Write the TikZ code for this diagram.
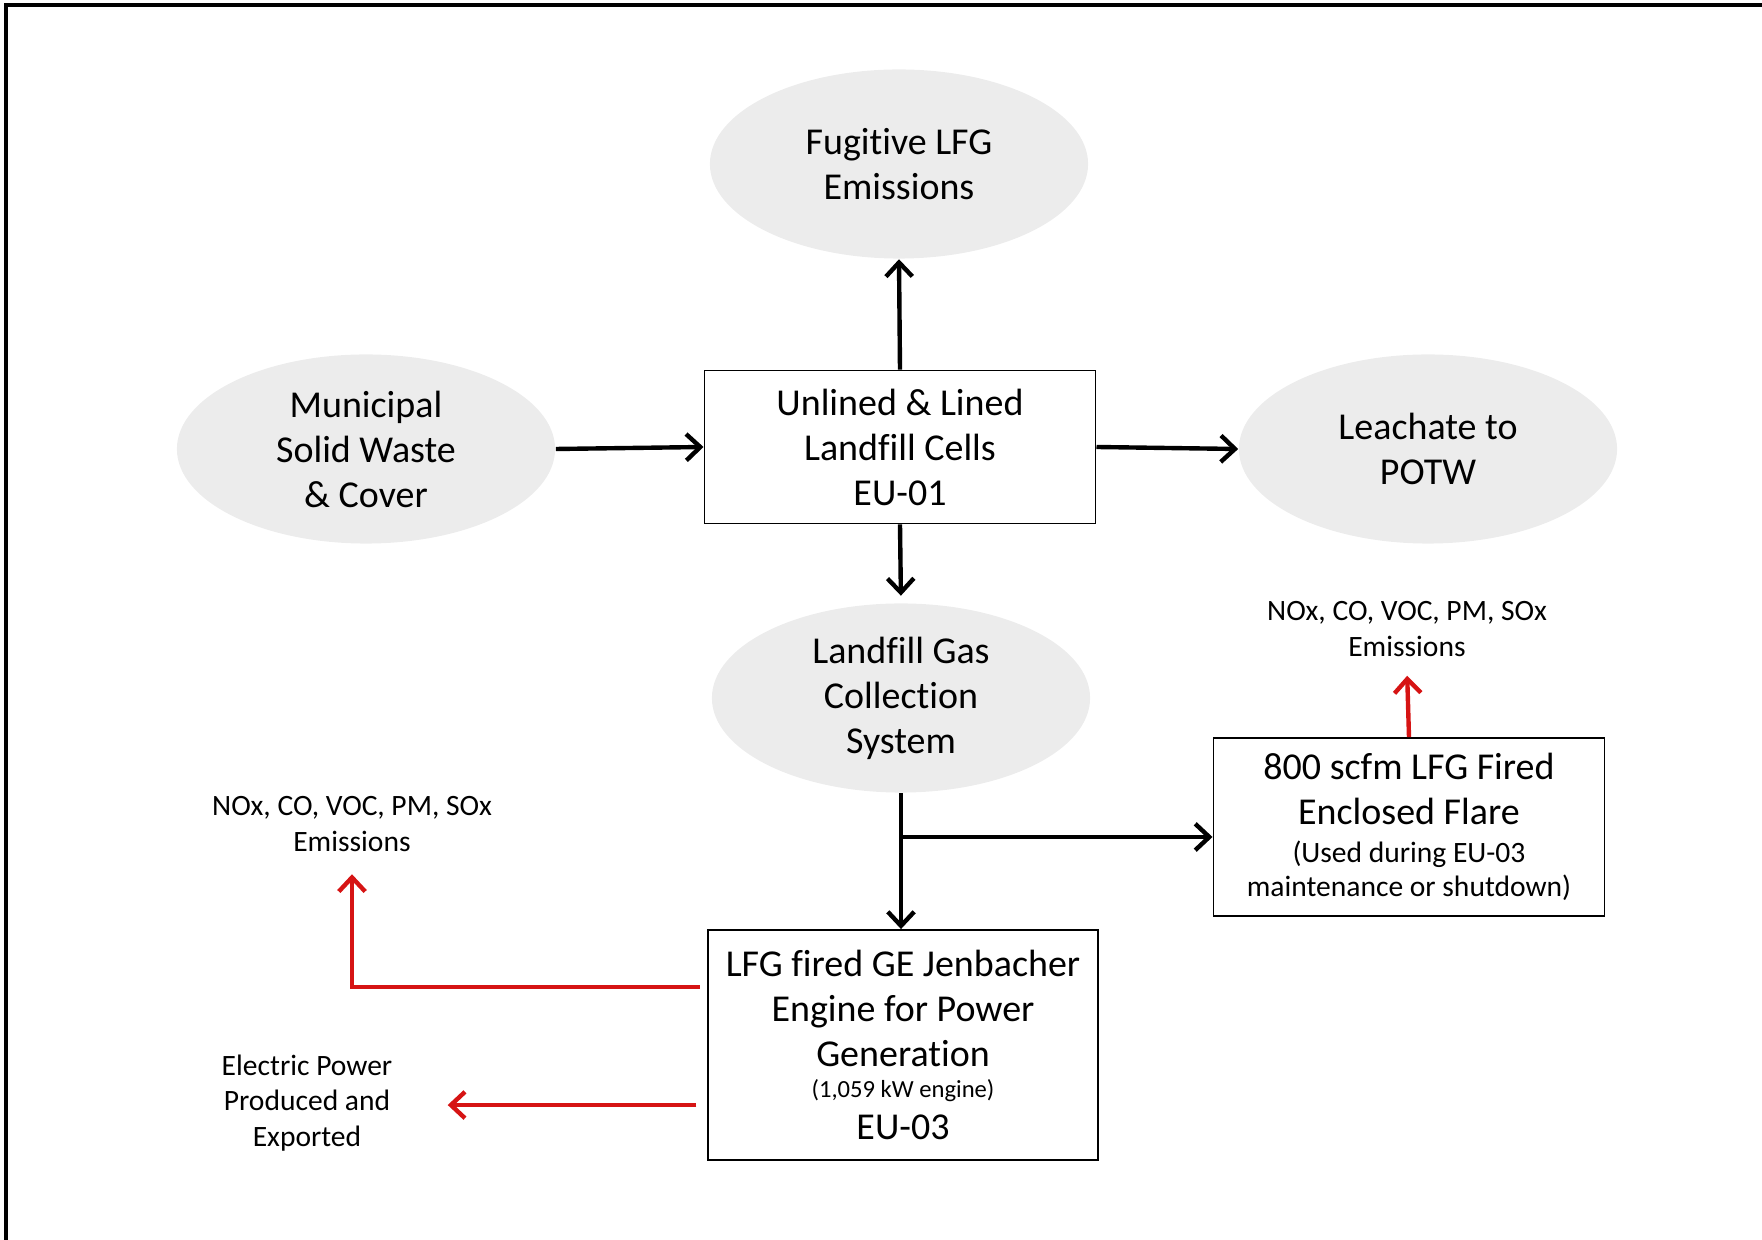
\documentclass[tikz,border=0pt]{standalone}
\usepackage{fontspec}
\setmainfont{Carlito}[Ligatures=NoCommon]
\usepackage{tikz}
\usetikzlibrary{shapes.geometric,arrows.meta}

\definecolor{emred}{RGB}{214,20,20}
\definecolor{ovalgray}{RGB}{236,236,236}
\newcommand\bigtxt{\fontsize{10.8}{12.8}\selectfont}
\newcommand\smalltxt{\fontsize{8.4}{10}\selectfont}
\newcommand\tinytxt{\fontsize{7}{9}\selectfont}

\begin{document}
\begin{tikzpicture}[x=0.01cm, y=-0.01cm,
    oval/.style={ellipse, fill=ovalgray, inner sep=0pt, minimum width=3.78cm, minimum height=1.89cm, align=center, font=\bigtxt},
    unit/.style={draw, line width=0.5pt, inner sep=0pt, align=center, font=\bigtxt},
    note/.style={align=center, font=\smalltxt},
    flow/.style={line width=1.25pt, -{Straight Barb[length=4pt,width=7.5pt]}},
    redflow/.style={flow, emred}]
        \useasboundingbox (0,0) rectangle (1762,1240);
        % Frame
        \draw[line width=1.15pt] (6,1240) -- (6,5) -- (1762,5);

        % Ovals
        \node[oval] (fugitive) at (899,164) {Fugitive LFG\\Emissions};
        \node[oval] (msw) at (366,449) {Municipal\\Solid Waste\\\& Cover};
        \node[oval] (leachate) at (1428,449) {Leachate to\\POTW};
        \node[oval] (lgc) at (901,698) {Landfill Gas\\Collection\\System};

        % Units
        \node[unit, minimum width=3.91cm, minimum height=1.53cm] (cells) at (900,447) {Unlined \& Lined\\Landfill Cells\\EU-01};
        \node[unit, minimum width=3.91cm, minimum height=1.78cm] (flare) at (1409,827)
            {800 scfm LFG Fired\\Enclosed Flare\\[-2pt]\smalltxt (Used during EU-03\\[-3pt]\smalltxt maintenance or shutdown)};
        \node[unit, minimum width=3.90cm, minimum height=2.30cm] (engine) at (903,1045)
            {LFG fired GE Jenbacher\\Engine for Power\\Generation\\[-4pt]\tinytxt (1,059 kW engine)\\[-1pt]\bigtxt EU-03};

        % Notes
        \node[note] (flareem) at (1407,629) {NOx, CO, VOC, PM, SOx\\Emissions};
        \node[note] (engineem) at (352,824) {NOx, CO, VOC, PM, SOx\\Emissions};
        \node[note] (power) at (307,1103) {Electric Power\\Produced and\\Exported};

        % Black flows
        \draw[flow] (msw.east) -- (cells.west);
        \draw[flow] (cells.east) -- (leachate.west);
        \draw[flow] (cells.north) -- (fugitive.south);
        \draw[flow, shorten >=2pt] (cells.south) -- (lgc.north);
        \draw[flow] (lgc.south) -- (lgc.south |- engine.north);
        \coordinate (split) at (902,837);
        \draw[flow] (split) -- (split -| flare.west);

        % Red flows
        \draw[redflow, shorten >=2pt] (flare.north) -- (flareem.south);
        \draw[redflow, shorten <=2pt, shorten >=3pt] ([yshift=0.58cm]engine.west) -| (engineem.south);
        \draw[redflow, shorten <=3pt, shorten >=0.43cm] ([yshift=-0.6cm]engine.west) -- ([yshift=-0.6cm]engine.west -| power.east);
\end{tikzpicture}
\end{document}
